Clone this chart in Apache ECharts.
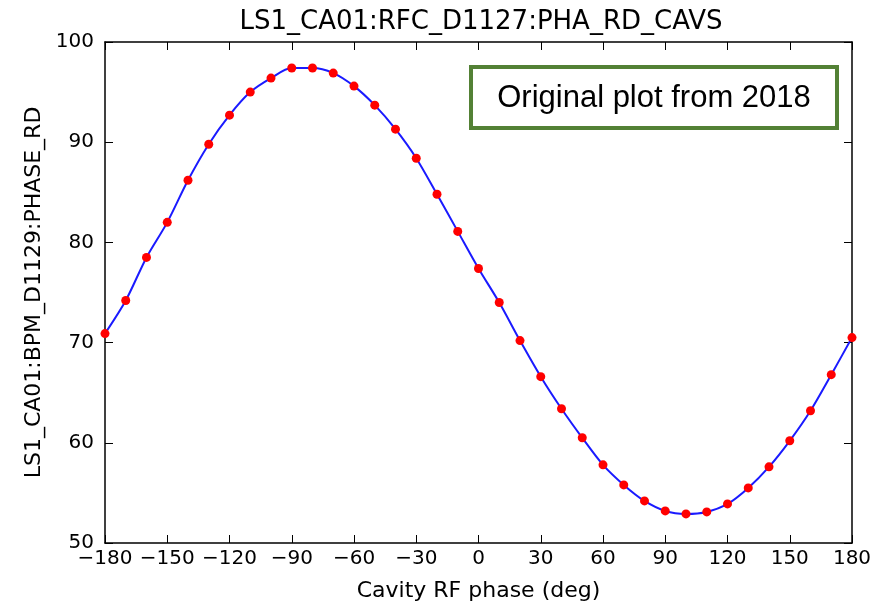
<!DOCTYPE html>
<html>
<head>
<meta charset="utf-8">
<script src="https://cdn.jsdelivr.net/npm/echarts@6/dist/echarts.min.js"></script>
<style>html,body{margin:0;padding:0;background:#fff}#c{width:877px;height:607px}</style>
</head>
<body>
<div id="c"></div>
<script>
const phases = [-180,-170,-160,-150,-140,-130,-120,-110,-100,-90,-80,-70,-60,-50,-40,-30,-20,-10,0,10,20,30,40,50,60,70,80,90,100,110,120,130,140,150,160,170,180];
const bpmPhase = [70.9,74.2,78.5,82.0,86.2,89.8,92.7,95.0,96.4,97.4,97.4,96.9,95.6,93.7,91.3,88.4,84.8,81.1,77.4,74.0,70.2,66.6,63.4,60.5,57.8,55.8,54.2,53.2,52.9,53.1,53.9,55.5,57.6,60.2,63.2,66.8,70.5];
const xTicks = [-180,-150,-120,-90,-60,-30,0,30,60,90,120,150,180];
const yTicks = [50,60,70,80,90,100];
const titleText = 'LS1_CA01:RFC_D1127:PHA_RD_CAVS';
const xLabel = 'Cavity RF phase (deg)';
const yLabel = 'LS1_CA01:BPM_D1129:PHASE_RD';
const noteText = 'Original plot from 2018';

const pts = phases.map((p,i)=>[p,bpmPhase[i]]);
const font = 'DejaVu Sans';
const fmt = v => String(v).replace('-', '\u2212');
const chart = echarts.init(document.getElementById('c'), null, {renderer:'canvas'});
const axLine = {show:true, onZero:false, lineStyle:{color:'#000', width:1.5}};
const axTick = {show:true, inside:true, length:8, lineStyle:{color:'#000', width:1}};
chart.setOption({
  animation:false,
  backgroundColor:'#fff',
  title:{text:titleText, left:476, top:4, textAlign:'center',
    textStyle:{fontFamily:font, fontSize:26, fontWeight:'normal', color:'#000'}},
  grid:{left:105, right:25, top:42, bottom:64},
  xAxis:[{type:'value', min:xTicks[0], max:xTicks[xTicks.length-1], interval:30, position:'bottom',
    name:xLabel, nameLocation:'middle', nameGap:37,
    nameTextStyle:{fontFamily:font, fontSize:22, color:'#000'},
    axisLine:axLine, axisTick:axTick,
    axisLabel:{fontFamily:font, fontSize:20, color:'#000', margin:6, formatter:fmt},
    splitLine:{show:false}},
    {type:'value', min:xTicks[0], max:xTicks[xTicks.length-1], interval:30, position:'top',
    axisLine:axLine, axisTick:axTick, axisLabel:{show:false}, splitLine:{show:false}}],
  yAxis:[{type:'value', min:yTicks[0], max:yTicks[yTicks.length-1], interval:10, position:'left',
    name:yLabel, nameLocation:'middle', nameGap:60,
    nameTextStyle:{fontFamily:font, fontSize:22, color:'#000'},
    axisLine:axLine, axisTick:axTick,
    axisLabel:{fontFamily:font, fontSize:20, color:'#000', margin:11},
    splitLine:{show:false}},
    {type:'value', min:yTicks[0], max:yTicks[yTicks.length-1], interval:10, position:'right',
    axisLine:axLine, axisTick:axTick, axisLabel:{show:false}, splitLine:{show:false}}],
  series:[
    {type:'line', data:pts, smooth:0.3, showSymbol:false, symbol:'none',
      lineStyle:{color:'#1a1aff', width:2}, z:2, clip:true},
    {type:'scatter', data:pts, symbol:'circle', symbolSize:9,
      itemStyle:{color:'#ff0000', opacity:1}, z:3, clip:true}
  ],
  graphic:[{type:'group', left:469, top:65, children:[
    {type:'rect', shape:{x:0,y:0,width:366,height:61},
      style:{fill:'#fff', stroke:'#538135', lineWidth:4}},
    {type:'text', x:183, y:31, style:{text:noteText, fontFamily:'Liberation Sans',
      fontSize:31, fill:'#000', align:'center', verticalAlign:'middle'}}
  ]}]
});
</script>
</body>
</html>
